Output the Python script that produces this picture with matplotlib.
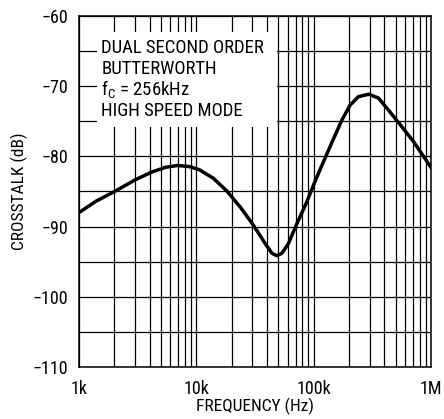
import matplotlib
matplotlib.use("Agg")
import matplotlib.pyplot as plt
from matplotlib.patches import Rectangle
from matplotlib.ticker import FixedLocator, LogLocator, NullFormatter

plt.rcParams.update({"font.family": ["Roboto Condensed", "Liberation Sans", "DejaVu Sans"],
                     "font.size": 13})

# crosstalk curve (Hz, dB)
FREQ = [1000, 1390, 2060, 3040, 4220, 5490, 6880, 8670, 10600, 12400, 13900, 18100, 23600,
        30600, 38500, 44000, 48500, 53500, 60900, 70000, 87400, 100000, 113000, 142000, 174000,
        204000, 240000, 294000, 356000, 433000, 546000, 708000, 1000000]
XTALK = [-88.0, -86.4, -84.9, -83.3, -82.2, -81.55, -81.3, -81.45, -81.9, -82.6, -83.1, -84.9, -87.2,
         -89.8, -92.4, -93.8, -94.15, -93.8, -92.4, -90.0, -86.45, -84.0, -81.9, -78.1, -74.8,
         -72.7, -71.5, -71.15, -71.7, -73.4, -75.5, -77.9, -81.6]
XTICKS = [1e3, 1e4, 1e5, 1e6]
XLABELS = ["1k", "10k", "100k", "1M"]
YTICKS = [-110, -100, -90, -80, -70, -60]
NOTE = ["DUAL SECOND ORDER", "BUTTERWORTH", "f$_\\mathregular{C}$ = 256kHz", "HIGH SPEED MODE"]

fig = plt.figure(figsize=(4.44, 4.19), dpi=100)
ax = fig.add_axes([0.178, 0.124, 0.793, 0.838])
ax.set_xscale("log")
ax.set_xlim(1e3, 1e6)
ax.set_ylim(-110, -60)

ax.xaxis.set_major_locator(FixedLocator(XTICKS))
ax.set_xticklabels(XLABELS)
ax.xaxis.set_minor_locator(LogLocator(base=10, subs=range(2, 10)))
ax.xaxis.set_minor_formatter(NullFormatter())
ax.set_yticks(YTICKS)
ax.set_yticklabels([f"\u2212{abs(v)}" for v in YTICKS])
ax.yaxis.set_minor_locator(FixedLocator(range(-105, -60, 10)))
ax.tick_params(which="both", length=0, labelsize=13)
ax.tick_params(axis="y", pad=8)
ax.tick_params(axis="x", pad=9)

ax.grid(True, which="both", color="black", lw=0.9)
ax.set_axisbelow(True)
for s in ax.spines.values():
    s.set_linewidth(1.1)

# white panel behind the annotation text, hides the grid
ax.add_patch(Rectangle((0.051, 0.684), 0.512, 0.27, transform=ax.transAxes,
                       facecolor="white", edgecolor="none", zorder=1))
for i, line in enumerate(NOTE):
    ax.text(0.063, 0.91 - i * 0.0607, line, transform=ax.transAxes, fontsize=13.5,
            va="center", ha="left", zorder=4)

ax.plot(FREQ, XTALK, color="black", lw=2.5, zorder=3, solid_joinstyle="round")

ax.set_xlabel("FREQUENCY (Hz)", fontsize=12.5, labelpad=0)
ax.set_ylabel("CROSSTALK (dB)", fontsize=12.5, labelpad=3)

fig.savefig("out.png", dpi=100)
